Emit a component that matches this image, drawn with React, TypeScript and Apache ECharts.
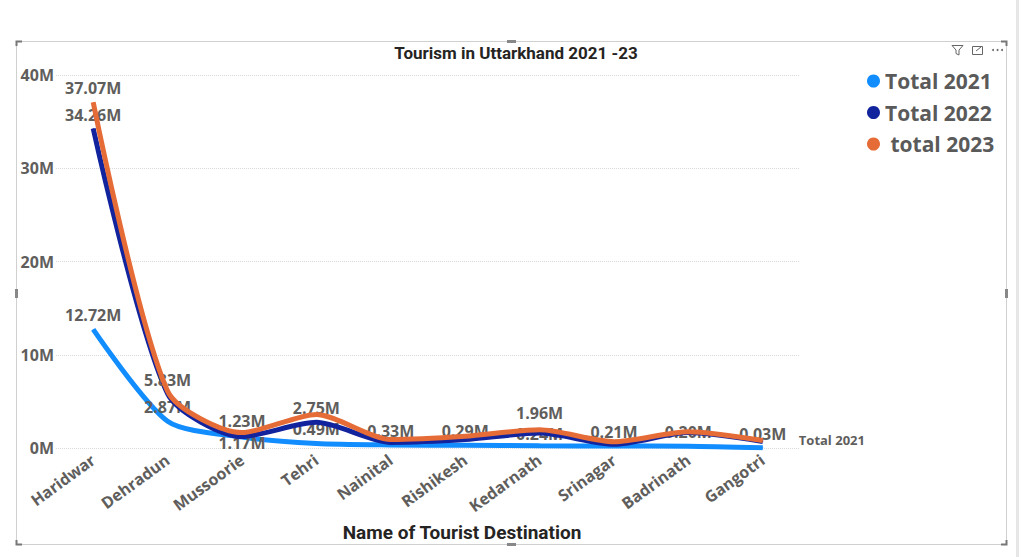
import React, { useEffect, useRef } from "react";
import * as echarts from "echarts";

const categories = ["Haridwar", "Dehradun", "Mussoorie", "Tehri", "Nainital", "Rishikesh", "Kedarnath", "Srinagar", "Badrinath", "Gangotri"];
const total2021 = [12.72, 2.87, 1.17, 0.49, 0.33, 0.29, 0.24, 0.21, 0.2, 0.03];
const total2022 = [34.26, 5.83, 1.23, 2.75, 0.6, 0.9, 1.6, 0.4, 1.65, 0.7];
const total2023 = [37.07, 6.1, 1.65, 3.6, 0.9, 1.25, 1.96, 0.68, 1.75, 0.8];
const labelled2021 = [0, 1, 2, 3, 4, 5, 6, 7, 8, 9];
const labelled2022 = [0, 1, 2, 3];
const labelled2023 = [0, 6];
const seriesNames = ["Total 2021", "Total 2022", " total 2023"];
const yTicks = [0, 10, 20, 30, 40];

const colors = ["#118DFF", "#12239E", "#E66C37"];
const labelGray = "#605E5C";

function buildData(values: number[], labelled: number[], offsets: Record<number, number> = {}) {
  return values.map((v, i) => {
    if (!labelled.includes(i)) return { value: v };
    return {
      value: v,
      label: {
        show: true,
        position: "inside",
        offset: [0, offsets[i] !== undefined ? offsets[i] : -14],
        formatter: (p: any) => p.value.toFixed(2) + "M",
        color: labelGray,
        fontFamily: "Open Sans",
        fontWeight: "bold",
        fontSize: 16,
      },
    };
  });
}

export default function App() {
  const ref = useRef<HTMLDivElement>(null);
  useEffect(() => {
    if (!ref.current) return;
    const chart = echarts.init(ref.current, undefined, { renderer: "svg" });
    const lineSeries = (idx: number, values: number[], labelled: number[], offsets: Record<number, number> = {}) => ({
      type: "line",
      name: seriesNames[idx],
      data: buildData(values, labelled, offsets),
      smooth: 0.25,
      symbol: "circle",
      symbolSize: 1,
      showSymbol: true,
      itemStyle: { color: colors[idx] },
      lineStyle: { color: colors[idx], width: 5 },
      z: 2 + idx,
    });
    const s2021: any = lineSeries(0, total2021, labelled2021, { 2: 6, 6: -12 });
    s2021.endLabel = {
      show: true,
      formatter: "Total 2021",
      offset: [28, -8],
      color: labelGray,
      fontFamily: "Open Sans",
      fontWeight: "bold",
      fontSize: 13,
    };
    chart.setOption({
      animation: false,
      backgroundColor: "#ffffff",
      title: {
        text: "Tourism in Uttarkhand 2021 -23",
        left: 511,
        top: 39,
        textAlign: "center",
        textStyle: { fontFamily: "Roboto", fontWeight: "bold", fontSize: 17, color: "#252423" },
      },
      legend: {
        orient: "vertical",
        left: 862,
        top: 65,
        icon: "circle",
        itemWidth: 13,
        itemHeight: 13,
        itemGap: 9.5,
        data: seriesNames,
        textStyle: { fontFamily: "Open Sans", fontWeight: "bold", fontSize: 21, color: "#5a5a5a", lineHeight: 22 },
      },
      grid: { left: 56, right: 224, top: 75, bottom: 109, containLabel: false },
      xAxis: {
        type: "category",
        data: categories,
        boundaryGap: true,
        axisLine: { show: false },
        axisTick: { show: false },
        axisLabel: {
          rotate: 36,
          margin: 10,
          interval: 0,
          color: labelGray,
          fontFamily: "Open Sans",
          fontWeight: "bold",
          fontSize: 16,
        },
      },
      yAxis: {
        type: "value",
        min: yTicks[0],
        max: yTicks[yTicks.length - 1],
        interval: yTicks[1] - yTicks[0],
        axisLine: { show: false },
        axisTick: { show: false },
        axisLabel: {
          formatter: "{value}M",
          margin: 2,
          color: labelGray,
          fontFamily: "Open Sans",
          fontWeight: "bold",
          fontSize: 16,
        },
        splitLine: { lineStyle: { type: "dotted", color: "#d9d9d9", width: 1 } },
      },
      series: [
        s2021,
        lineSeries(1, total2022, labelled2022, { 2: -16 }),
        lineSeries(2, total2023, labelled2023, { 6: -17 }),
      ],
      graphic: [
        { type: "rect", shape: { x: 16.5, y: 41.5, width: 990, height: 503 }, style: { fill: "none", stroke: "#d0d0d0", lineWidth: 1 }, z: -1 },
        { type: "rect", shape: { x: 1016, y: 0, width: 3, height: 557 }, style: { fill: "#e6e6e6" } },
        { type: "polyline", shape: { points: [[22, 41.5], [16.5, 41.5], [16.5, 46]] }, style: { stroke: "#777", lineWidth: 2, fill: "none" } },
        { type: "polyline", shape: { points: [[16.5, 540], [16.5, 544.5], [22, 544.5]] }, style: { stroke: "#777", lineWidth: 2, fill: "none" } },
        { type: "polyline", shape: { points: [[1001, 41.5], [1006.5, 41.5], [1006.5, 46]] }, style: { stroke: "#777", lineWidth: 2, fill: "none" } },
        { type: "polyline", shape: { points: [[1006.5, 540], [1006.5, 544.5], [1001, 544.5]] }, style: { stroke: "#777", lineWidth: 2, fill: "none" } },
        { type: "rect", shape: { x: 507, y: 40, width: 9, height: 3 }, style: { fill: "#888" } },
        { type: "rect", shape: { x: 507, y: 543, width: 9, height: 3 }, style: { fill: "#888" } },
        { type: "rect", shape: { x: 15, y: 289, width: 3, height: 9 }, style: { fill: "#888" } },
        { type: "rect", shape: { x: 1005, y: 289, width: 3, height: 9 }, style: { fill: "#888" } },
        { type: "polygon", shape: { points: [[952, 45.5], [963, 45.5], [959, 50], [959, 55], [956, 53.5], [956, 50]] }, style: { fill: "none", stroke: "#666", lineWidth: 1 } },
        { type: "rect", shape: { x: 972.5, y: 46.5, width: 10, height: 8 }, style: { fill: "none", stroke: "#666", lineWidth: 1 } },
        { type: "line", shape: { x1: 976, y1: 51, x2: 981, y2: 47 }, style: { stroke: "#666", lineWidth: 1 } },
        { type: "circle", shape: { cx: 993, cy: 50, r: 1 }, style: { fill: "#666" } },
        { type: "circle", shape: { cx: 997.5, cy: 50, r: 1 }, style: { fill: "#666" } },
        { type: "circle", shape: { cx: 1002, cy: 50, r: 1 }, style: { fill: "#666" } },
        {
          type: "text",
          x: 462,
          y: 532,
          style: {
            text: "Name of Tourist Destination",
            fill: "#252423",
            font: "bold 19px Roboto",
            textAlign: "center",
            textVerticalAlign: "middle",
          },
        },
      ],
    });
    return () => chart.dispose();
  }, []);
  return <div ref={ref} style={{ position: "absolute", left: 0, top: 0, width: 1024, height: 557 }} />;
}
